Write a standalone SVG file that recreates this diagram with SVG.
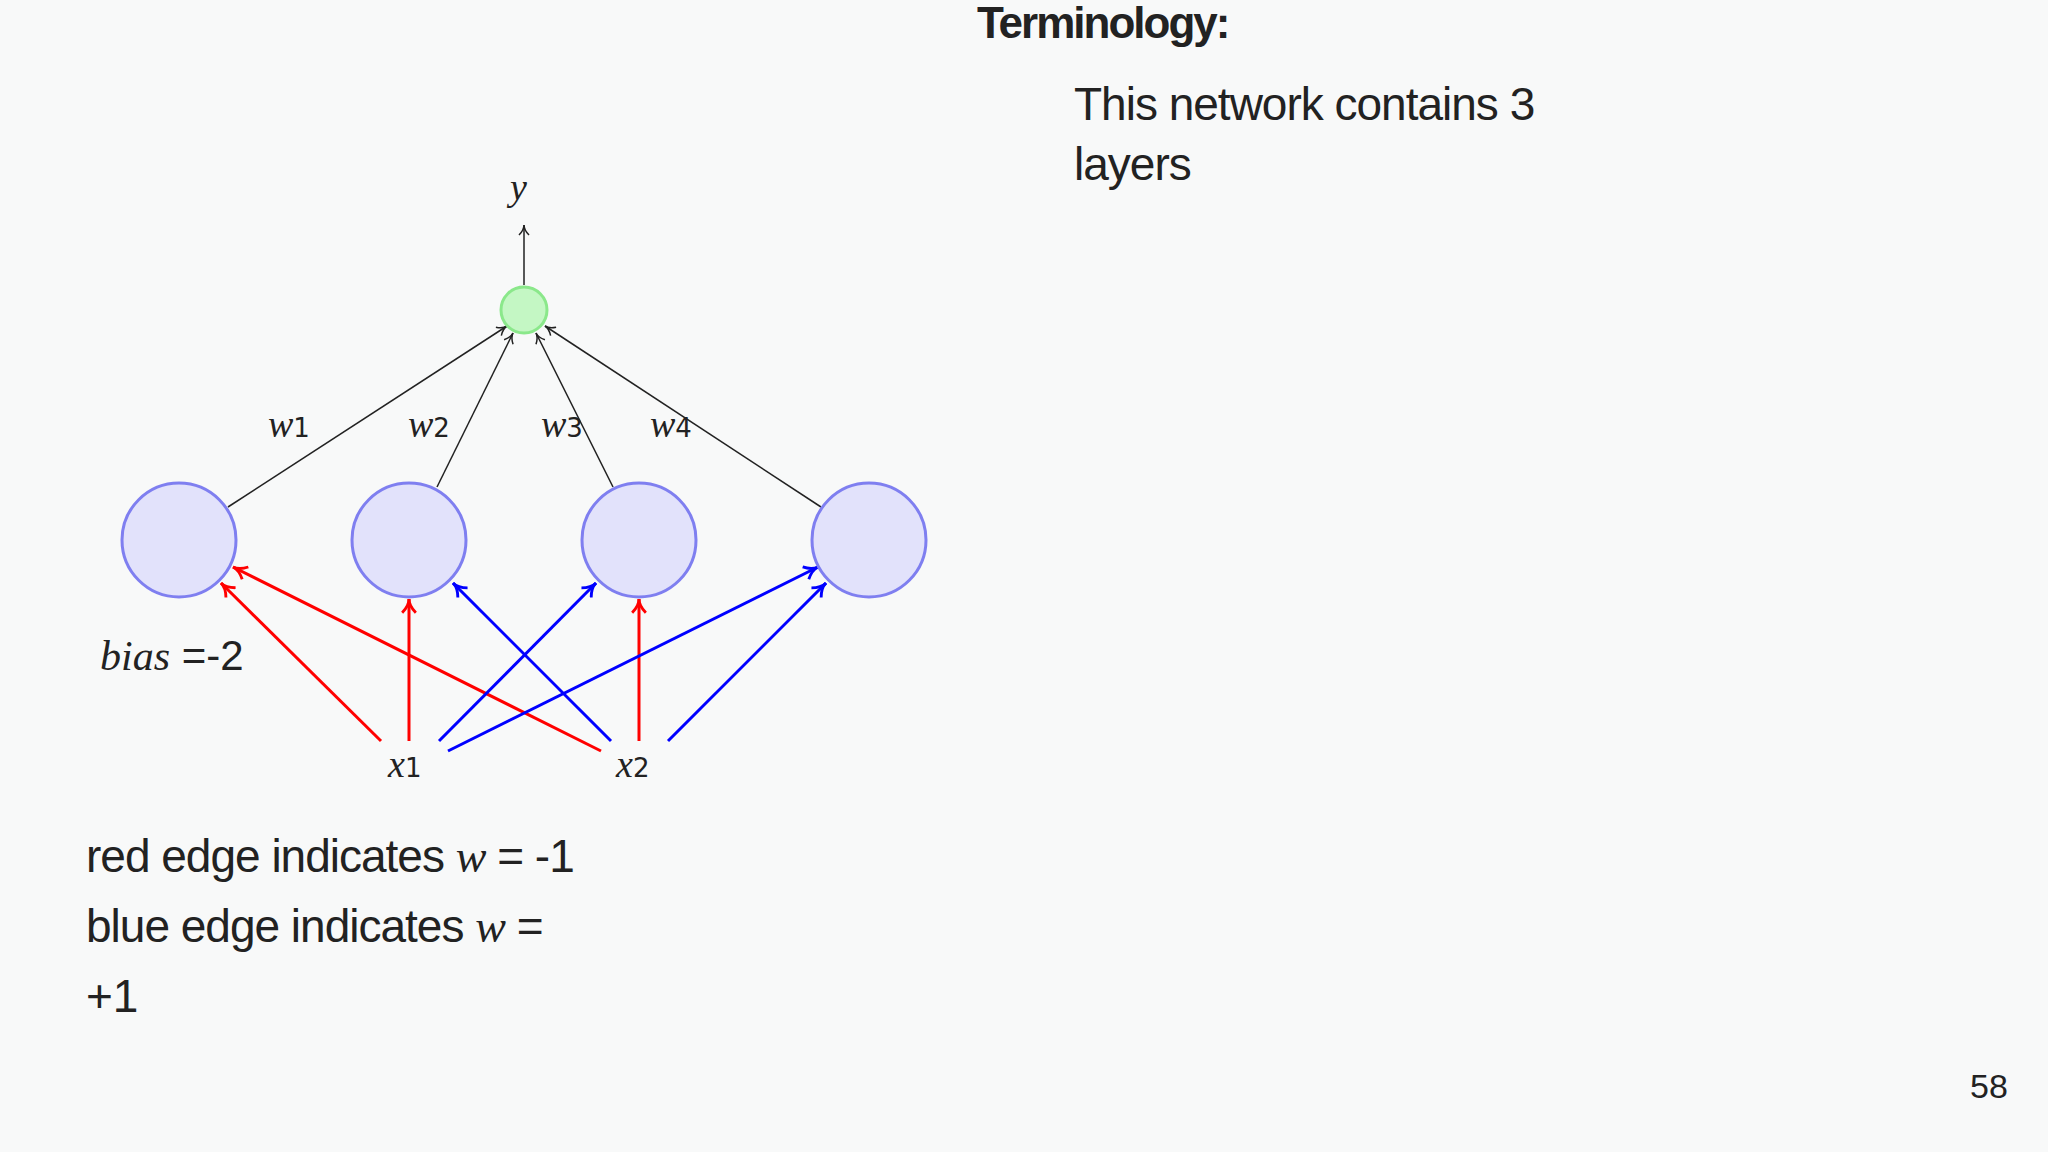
<svg xmlns="http://www.w3.org/2000/svg" width="2048" height="1152" viewBox="0 0 2048 1152">
<style>
.t{font-family:"Liberation Sans",Arial,sans-serif;fill:#222;}
.m{font-family:"Liberation Serif","DejaVu Serif",serif;font-style:italic;fill:#222;}
.s{font-family:"DejaVu Sans",sans-serif;font-style:normal;fill:#222;}
.h{fill:#e2e2fb;stroke:#7f7ff0;stroke-width:3;}
</style>
<defs>
<marker id="ak" viewBox="0 0 12 12" refX="11" refY="6" markerWidth="12" markerHeight="12" markerUnits="userSpaceOnUse" orient="auto"><path d="M1,1 Q6,6 11,6 Q6,6 1,11" fill="none" stroke="#222" stroke-width="1.5"/></marker>
<marker id="ar" viewBox="0 0 14 14" refX="13" refY="7" markerWidth="16" markerHeight="16" markerUnits="userSpaceOnUse" orient="auto"><path d="M1,1 Q7,7 13,7 Q7,7 1,13" fill="none" stroke="#f00" stroke-width="2.5"/></marker>
<marker id="ab" viewBox="0 0 14 14" refX="13" refY="7" markerWidth="16" markerHeight="16" markerUnits="userSpaceOnUse" orient="auto"><path d="M1,1 Q7,7 13,7 Q7,7 1,13" fill="none" stroke="#00f" stroke-width="2.5"/></marker>
</defs>
<rect width="2048" height="1152" fill="#f8f9f9"/>
<text class="t" x="977" y="38" font-size="44" font-weight="bold" letter-spacing="-2">Terminology:</text>
<text class="t" x="1074" y="120" font-size="46" letter-spacing="-1">This network contains 3</text>
<text class="t" x="1074" y="180" font-size="46" letter-spacing="-1">layers</text>
<g id="connectors" fill="none">
<line x1="524" y1="285" x2="524" y2="225" stroke="#222" stroke-width="1.5" marker-end="url(#ak)"/>
<g stroke="#222" stroke-width="1.5" marker-end="url(#ak)">
<line x1="228" y1="507" x2="507" y2="326"/>
<line x1="437" y1="487" x2="513" y2="333"/>
<line x1="613" y1="487" x2="536" y2="333"/>
<line x1="821" y1="507" x2="545" y2="326"/>
</g>
<g stroke="#f00" stroke-width="3" marker-end="url(#ar)">
<line x1="381" y1="741" x2="221" y2="583"/>
<line x1="409" y1="741" x2="409" y2="599"/>
<line x1="601" y1="751" x2="233" y2="567"/>
<line x1="639" y1="741" x2="639" y2="599"/>
</g>
<g stroke="#00f" stroke-width="3" marker-end="url(#ab)">
<line x1="439" y1="741" x2="596" y2="583"/>
<line x1="448" y1="751" x2="818" y2="567"/>
<line x1="611" y1="741" x2="453" y2="583"/>
<line x1="668" y1="741" x2="826" y2="583"/>
</g>
</g>
<g id="out"><circle cx="524" cy="310" r="23" fill="#c4f7c4" stroke="#8be88b" stroke-width="3"/></g>
<g id="h1"><circle class="h" cx="179" cy="540" r="57"/></g>
<g id="h2"><circle class="h" cx="409" cy="540" r="57"/></g>
<g id="h3"><circle class="h" cx="639" cy="540" r="57"/></g>
<g id="h4"><circle class="h" cx="869" cy="540" r="57"/></g>
<text class="m" x="510" y="200" font-size="38">y</text>
<text class="m" x="268" y="437" font-size="38">w<tspan class="s" font-size="26">1</tspan></text>
<text class="m" x="408" y="437" font-size="38">w<tspan class="s" font-size="26">2</tspan></text>
<text class="m" x="541" y="437" font-size="38">w<tspan class="s" font-size="26">3</tspan></text>
<text class="m" x="650" y="437" font-size="38">w<tspan class="s" font-size="26">4</tspan></text>
<text class="m" x="388" y="777" font-size="38">x<tspan class="s" font-size="26">1</tspan></text>
<text class="m" x="616" y="777" font-size="38">x<tspan class="s" font-size="26">2</tspan></text>
<text x="100" y="670" font-size="42"><tspan class="m">bias</tspan><tspan class="t"> =-2</tspan></text>
<text class="t" x="86" y="872" font-size="46" letter-spacing="-1">red edge indicates <tspan class="m">w</tspan> = -1</text>
<text class="t" x="86" y="942" font-size="46" letter-spacing="-1">blue edge indicates <tspan class="m">w</tspan> =</text>
<text class="t" x="86" y="1012" font-size="46">+1</text>
<text class="t" x="1970" y="1098" font-size="34">58</text>
</svg>
